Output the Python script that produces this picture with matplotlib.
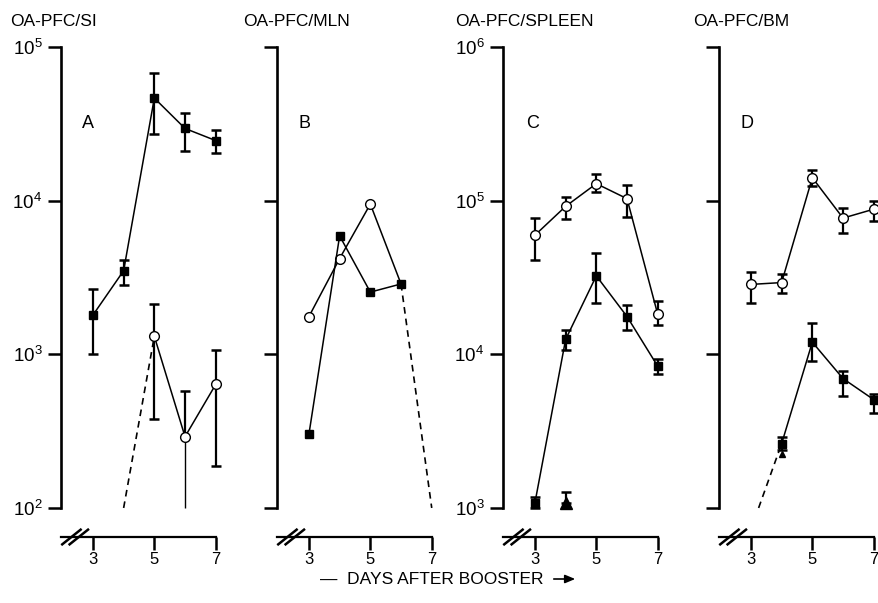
import numpy as np
import matplotlib.pyplot as plt

plt.rcParams['font.family'] = ['Liberation Sans', 'DejaVu Sans']
plt.rcParams['mathtext.fontset'] = 'custom'
plt.rcParams['mathtext.rm'] = 'Liberation Sans'

W, H = 879, 603

# ---- data ----
# panel A  OA-PFC/SI
a_sq_x = [3, 4, 5, 6, 7]
a_sq = [1800, 3500, 46500, 29500, 24600]
a_sq_lo = [1000, 2830, 27000, 21000, 20500]
a_sq_hi = [2650, 4100, 67500, 37000, 29000]
a_oc_x = [5, 6, 7]
a_oc = [1310, 291, 637]
a_oc_lo = [382, 100, 188]
a_oc_hi = [2120, 573, 1070]
a_dash_x = [4, 5]
a_dash_y = [100, 1310]

# panel B  OA-PFC/MLN
b_oc_x = [3, 4, 5, 6]
b_oc = [1760, 4200, 9500, 2870]
b_sq_x = [3, 4, 5, 6]
b_sq = [302, 5900, 2540, 2870]
b_dash_x = [6, 7]
b_dash_y = [2870, 100]

# panel C  OA-PFC/SPLEEN
c_oc_x = [3, 4, 5, 6, 7]
c_oc = [59600, 91800, 129000, 103000, 18200]
c_oc_lo = [41000, 76000, 114000, 78500, 15500]
c_oc_hi = [77000, 106000, 148000, 127000, 22300]
c_sq_x = [3, 4, 5, 6, 7]
c_sq = [1080, 12500, 32400, 17600, 8360]
c_sq_lo = [1000, 10700, 21700, 14300, 7500]
c_sq_hi = [1170, 14500, 45800, 20800, 9300]
c_tri_x = [4]
c_tri = [1070]
c_tri_hi = [1270]

# panel D  OA-PFC/BM
d_oc_x = [3, 4, 5, 6, 7]
d_oc = [28500, 29300, 141000, 77000, 88000]
d_oc_lo = [21700, 25100, 124000, 62000, 74000]
d_oc_hi = [34300, 33500, 158000, 89000, 100000]
d_sq_x = [4, 5, 6, 7]
d_sq = [2620, 12000, 6950, 5070]
d_sq_lo = [2400, 9000, 5350, 4170]
d_sq_hi = [2900, 16000, 7800, 5500]
d_tri_x = [4]
d_tri = [2250]
d_dash_x = [3.25, 4]
d_dash_y = [1000, 2620]

titles = ['OA-PFC/SI', 'OA-PFC/MLN', 'OA-PFC/SPLEEN', 'OA-PFC/BM']
letters = ['A', 'B', 'C', 'D']
xticks = [3, 5, 7]


def px(x, y):
    return x / W, 1 - y / H


def err(ax, x, y, lo, hi, caps=True):
    y = np.array(y, float)
    yerr = [y - np.array(lo), np.array(hi) - y]
    ax.errorbar(x, y, yerr=yerr, fmt='none', ecolor='k', elinewidth=1.6,
                capsize=3.5 if caps else 0, capthick=1.8, zorder=2, clip_on=False)


def squares(ax, x, y):
    ax.plot(x, y, color='k', lw=1.1, marker='s', ms=5.5, mfc='k', mec='k',
            zorder=4, clip_on=False)


def circles(ax, x, y, n=None):
    ax.plot(x, y, color='k', lw=1.1, marker='o', ms=7, mfc='white', mec='k',
            mew=1.0, zorder=3, clip_on=False,
            markevery=slice(0, n) if n else None)


def setup(ax, lo, hi, labels):
    ext = 10 ** 0.189
    ax.set_yscale('log')
    ax.set_ylim(lo / ext, hi)
    ax.set_xlim(1.96, 7.3)
    for s in ['top', 'right']:
        ax.spines[s].set_visible(False)
    ax.spines['left'].set_bounds(lo, hi)
    ax.spines['left'].set_linewidth(1.9)
    ax.spines['bottom'].set_bounds(1.96, 7.0)
    ax.spines['bottom'].set_linewidth(1.6)
    decs = [10 ** k for k in range(int(np.log10(lo)), int(np.log10(hi)) + 1)]
    ax.set_yticks(decs)
    ax.yaxis.set_minor_locator(plt.NullLocator())
    if labels:
        ax.set_yticklabels([r'$\mathregular{10^{%d}}$' % int(np.log10(d)) for d in decs])
    else:
        ax.set_yticklabels([])
    ax.set_xticks(xticks)
    ax.set_xticklabels([str(t) for t in xticks])
    ax.tick_params(axis='y', direction='out', length=9.5, width=1.8, labelsize=13.5, pad=4)
    ax.tick_params(axis='x', direction='out', length=9, width=1.8, labelsize=12, pad=2)
    # axis break marks
    tr = ax.get_xaxis_transform()
    for x0 in (2.0, 2.24):
        ax.plot([x0, x0 + 0.6], [-0.015, 0.015], transform=tr, color='k',
                lw=1.8, clip_on=False, zorder=5)


fig = plt.figure(figsize=(W / 100, H / 100), dpi=100)
lefts = [61, 277, 503, 719]
axw = 5.34 * 30.7
axes = []
for i, l in enumerate(lefts):
    x0, y0 = px(l, 537)
    ax = fig.add_axes([x0, y0, axw / W, 490 / H])
    ax.patch.set_visible(False)
    axes.append(ax)

# A
ax = axes[0]
setup(ax, 100, 1e5, True)
err(ax, a_sq_x, a_sq, a_sq_lo, a_sq_hi)
squares(ax, a_sq_x, a_sq)
err(ax, [5, 7], [a_oc[0], a_oc[2]], [a_oc_lo[0], a_oc_lo[2]], [a_oc_hi[0], a_oc_hi[2]])
err(ax, [6], [a_oc[1]], [a_oc[1]], [a_oc_hi[1]])
ax.vlines(6, a_oc_lo[1], a_oc[1], color='k', lw=1.0, zorder=2)
circles(ax, a_oc_x, a_oc)
ax.plot(a_dash_x, a_dash_y, 'k--', lw=1.2, dashes=(4, 3), zorder=2)

# B
ax = axes[1]
setup(ax, 100, 1e5, False)
circles(ax, b_oc_x, b_oc, n=3)
squares(ax, b_sq_x, b_sq)
ax.plot(b_dash_x, b_dash_y, 'k--', lw=1.2, dashes=(4, 3), zorder=2)

# C
ax = axes[2]
setup(ax, 1e3, 1e6, True)
err(ax, c_oc_x, c_oc, c_oc_lo, c_oc_hi)
circles(ax, c_oc_x, c_oc)
err(ax, c_sq_x, c_sq, c_sq_lo, c_sq_hi)
squares(ax, c_sq_x, c_sq)
err(ax, c_tri_x, c_tri, c_tri, c_tri_hi)
ax.plot(c_tri_x, c_tri, 'k^', ms=8, zorder=4, clip_on=False)

# D
ax = axes[3]
setup(ax, 1e3, 1e6, False)
err(ax, d_oc_x, d_oc, d_oc_lo, d_oc_hi)
circles(ax, d_oc_x, d_oc)
err(ax, d_sq_x, d_sq, d_sq_lo, d_sq_hi)
ax.plot(d_tri_x, d_tri, 'k^', ms=5, zorder=4)
squares(ax, d_sq_x, d_sq)
ax.plot(d_dash_x, d_dash_y, 'k--', lw=1.2, dashes=(4, 3), zorder=2)

# titles and panel letters
tpos = [10, 243, 455, 693]
lpos = [88, 304, 533, 747]
for i in range(4):
    fig.text(*px(tpos[i], 21), titles[i], fontsize=12.5, va='center', ha='left')
    fig.text(*px(lpos[i], 124), letters[i], fontsize=13, va='center', ha='center')

fig.text(*px(320, 579), '—  DAYS AFTER BOOSTER', fontsize=12.5, va='center', ha='left')
fig.add_artist(plt.matplotlib.patches.FancyArrowPatch(
    px(551, 579), px(578, 579), transform=fig.transFigure,
    arrowstyle='-|>,head_length=6,head_width=2.5', color='k', lw=1.2))

fig.savefig('out.png', dpi=100)
